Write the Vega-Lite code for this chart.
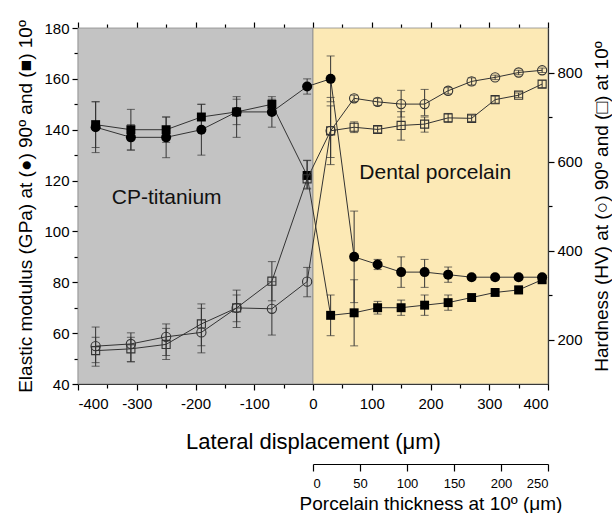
{
  "$schema": "https://vega.github.io/schema/vega-lite/v6.json",
  "width": 470,
  "height": 356,
  "padding": {"left": 16, "top": 19, "right": 0, "bottom": 0},
  "config": {
    "view": {"stroke": null},
    "font": "Liberation Sans",
    "axis": {"grid": false, "domainColor": "#000", "tickColor": "#000", "labelColor": "#000", "titleColor": "#000", "titleFontWeight": "normal", "labelFont": "Liberation Sans", "titleFont": "Liberation Sans", "labelFontSize": 15, "domainWidth": 1.2, "tickWidth": 1.2}
  },
  "datasets": {
    "regions": [
      {"x1": -400, "x2": 0, "c": "#c3c3c3"},
      {"x1": 0, "x2": 400, "c": "#fce9b5"}
    ],
    "labels": [
      {"x": -249, "y": 113, "label": "CP-titanium"},
      {"x": 208, "y": 123, "label": "Dental porcelain"}
    ],
    "pts": [
      {"s": "E90", "x": -370, "v": 141, "lo": 131, "hi": 151},
      {"s": "E90", "x": -310, "v": 137, "lo": 132, "hi": 142},
      {"s": "E90", "x": -250, "v": 137, "lo": 129, "hi": 145},
      {"s": "E90", "x": -190, "v": 140, "lo": 130, "hi": 150},
      {"s": "E90", "x": -130, "v": 147, "lo": 137, "hi": 153},
      {"s": "E90", "x": -70, "v": 147, "lo": 141, "hi": 152},
      {"s": "E90", "x": -10, "v": 157, "lo": 154, "hi": 160},
      {"s": "E90", "x": 30, "v": 160, "lo": 151, "hi": 169},
      {"s": "E90", "x": 70, "v": 90, "lo": 72, "hi": 108},
      {"s": "E90", "x": 110, "v": 87, "lo": 85, "hi": 89},
      {"s": "E90", "x": 150, "v": 84, "lo": 78, "hi": 90},
      {"s": "E90", "x": 190, "v": 84, "lo": 78, "hi": 89},
      {"s": "E90", "x": 230, "v": 83, "lo": 80, "hi": 86},
      {"s": "E90", "x": 270, "v": 82, "lo": 81, "hi": 83},
      {"s": "E90", "x": 310, "v": 82, "lo": 81, "hi": 83},
      {"s": "E90", "x": 350, "v": 82, "lo": 81, "hi": 83},
      {"s": "E90", "x": 390, "v": 82, "lo": 81, "hi": 83},
      {"s": "E10", "x": -370, "v": 142, "lo": 133, "hi": 151},
      {"s": "E10", "x": -310, "v": 140, "lo": 132, "hi": 148},
      {"s": "E10", "x": -250, "v": 140, "lo": 135, "hi": 145},
      {"s": "E10", "x": -190, "v": 145, "lo": 140, "hi": 150},
      {"s": "E10", "x": -130, "v": 147, "lo": 142, "hi": 152},
      {"s": "E10", "x": -70, "v": 150, "lo": 148, "hi": 153},
      {"s": "E10", "x": -10, "v": 122, "lo": 117, "hi": 128},
      {"s": "E10", "x": 30, "v": 67, "lo": 59, "hi": 75},
      {"s": "E10", "x": 70, "v": 68, "lo": 55, "hi": 81},
      {"s": "E10", "x": 110, "v": 70, "lo": 67.5, "hi": 72.5},
      {"s": "E10", "x": 150, "v": 70, "lo": 67, "hi": 73},
      {"s": "E10", "x": 190, "v": 71, "lo": 67, "hi": 75},
      {"s": "E10", "x": 230, "v": 72, "lo": 69, "hi": 75},
      {"s": "E10", "x": 270, "v": 74, "lo": 73, "hi": 75},
      {"s": "E10", "x": 310, "v": 76, "lo": 75, "hi": 77},
      {"s": "E10", "x": 350, "v": 77, "lo": 75.5, "hi": 78.5},
      {"s": "E10", "x": 390, "v": 81, "lo": 80, "hi": 82},
      {"s": "H90", "x": -370, "v": 185, "lo": 140, "hi": 228},
      {"s": "H90", "x": -310, "v": 190, "lo": 150, "hi": 215},
      {"s": "H90", "x": -250, "v": 206, "lo": 164, "hi": 235},
      {"s": "H90", "x": -190, "v": 216, "lo": 170, "hi": 270},
      {"s": "H90", "x": -130, "v": 271, "lo": 227, "hi": 311},
      {"s": "H90", "x": -70, "v": 269, "lo": 210, "hi": 330},
      {"s": "H90", "x": -10, "v": 330, "lo": 296, "hi": 362},
      {"s": "H90", "x": 30, "v": 669, "lo": 593, "hi": 744},
      {"s": "H90", "x": 70, "v": 742, "lo": 735, "hi": 749},
      {"s": "H90", "x": 110, "v": 734, "lo": 726, "hi": 742},
      {"s": "H90", "x": 150, "v": 729, "lo": 700, "hi": 760},
      {"s": "H90", "x": 190, "v": 729, "lo": 703, "hi": 762},
      {"s": "H90", "x": 230, "v": 759, "lo": 752, "hi": 766},
      {"s": "H90", "x": 270, "v": 780, "lo": 772, "hi": 788},
      {"s": "H90", "x": 310, "v": 789, "lo": 784, "hi": 794},
      {"s": "H90", "x": 350, "v": 800, "lo": 795, "hi": 805},
      {"s": "H90", "x": 390, "v": 805, "lo": 800, "hi": 810},
      {"s": "H10", "x": -370, "v": 175, "lo": 148, "hi": 205},
      {"s": "H10", "x": -310, "v": 179, "lo": 150, "hi": 205},
      {"s": "H10", "x": -250, "v": 189, "lo": 155, "hi": 225},
      {"s": "H10", "x": -190, "v": 235, "lo": 186, "hi": 280},
      {"s": "H10", "x": -130, "v": 271, "lo": 240, "hi": 300},
      {"s": "H10", "x": -70, "v": 331, "lo": 287, "hi": 375},
      {"s": "H10", "x": -10, "v": 561, "lo": 538, "hi": 602},
      {"s": "H10", "x": 30, "v": 669, "lo": 609, "hi": 725},
      {"s": "H10", "x": 70, "v": 677, "lo": 665, "hi": 689},
      {"s": "H10", "x": 110, "v": 672, "lo": 665, "hi": 679},
      {"s": "H10", "x": 150, "v": 681, "lo": 648, "hi": 712},
      {"s": "H10", "x": 190, "v": 684, "lo": 666, "hi": 700},
      {"s": "H10", "x": 230, "v": 698, "lo": 688, "hi": 708},
      {"s": "H10", "x": 270, "v": 697, "lo": 690, "hi": 704},
      {"s": "H10", "x": 310, "v": 739, "lo": 731, "hi": 747},
      {"s": "H10", "x": 350, "v": 749, "lo": 744, "hi": 754},
      {"s": "H10", "x": 390, "v": 774, "lo": 766, "hi": 782}
    ]
  },
  "layer": [
    {
      "layer": [
        {
          "data": {"name": "regions"},
          "mark": {"type": "rect", "stroke": "#8a8a8a", "strokeWidth": 0.8},
          "encoding": {
            "x": {"field": "x1", "type": "quantitative", "scale": {"domain": [-400, 400], "nice": false, "zero": false},
              "axis": {"orient": "top", "labels": false, "title": null, "values": [-400, -350, -300, -250, -200, -150, -100, -50, 0, 50, 100, 150, 200, 250, 300, 350, 400],
                "tickSize": {"condition": {"test": "datum.value % 100 === 0", "value": 6}, "value": 4}}},
            "x2": {"field": "x2"},
            "color": {"field": "c", "type": "nominal", "scale": null}
          }
        },
        {
          "encoding": {
            "x": {"field": "x", "type": "quantitative", "scale": {"domain": [-400, 400], "nice": false, "zero": false},
              "axis": {"orient": "bottom", "values": [-400, -350, -300, -250, -200, -150, -100, -50, 0, 50, 100, 150, 200, 250, 300, 350, 400],
                "labelExpr": "datum.value % 100 === 0 ? replace(datum.label, '−', '-') : ''",
                "tickSize": {"condition": {"test": "datum.value % 100 === 0", "value": 6}, "value": 4},
                "labelPadding": 6, "title": "Lateral displacement (μm)", "titleFontSize": 22, "titlePadding": 20}},
            "y": {"field": "v", "type": "quantitative", "scale": {"domain": [40, 180], "nice": false, "zero": false},
              "axis": {"orient": "left", "values": [40, 50, 60, 70, 80, 90, 100, 110, 120, 130, 140, 150, 160, 170, 180],
                "labelExpr": "datum.value % 20 === 0 ? datum.label : ''",
                "tickSize": {"condition": {"test": "datum.value % 20 === 0", "value": 6}, "value": 4},
                "labelPadding": 3, "title": "Elastic modulus (GPa) at (●) 90º and (■) 10º", "titleFontSize": 19, "titlePadding": 8}}
          },
          "layer": [
            {
              "data": {"name": "labels"},
              "mark": {"type": "text", "fontSize": 21, "font": "Liberation Sans", "color": "#111", "baseline": "middle", "align": "center"},
              "encoding": {"y": {"field": "y", "type": "quantitative"}, "text": {"field": "label"}}
            },
            {
              "data": {"name": "pts"},
              "transform": [{"filter": "datum.s === 'E90' || datum.s === 'E10'"}],
              "layer": [
                {"mark": {"type": "rule", "color": "#333", "strokeWidth": 1}, "encoding": {"y": {"field": "lo", "type": "quantitative"}, "y2": {"field": "hi"}}},
                {"mark": {"type": "tick", "orient": "horizontal", "size": 8, "thickness": 1, "color": "#333"}, "encoding": {"y": {"field": "lo", "type": "quantitative"}}},
                {"mark": {"type": "tick", "orient": "horizontal", "size": 8, "thickness": 1, "color": "#333"}, "encoding": {"y": {"field": "hi", "type": "quantitative"}}},
                {"mark": {"type": "line", "color": "#333", "strokeWidth": 1}, "encoding": {"detail": {"field": "s"}, "order": {"field": "x"}}},
                {"mark": {"type": "point", "filled": true, "opacity": 1, "color": "#000"},
                  "encoding": {
                    "shape": {"field": "s", "type": "nominal", "scale": {"domain": ["E90", "E10"], "range": ["circle", "square"]}, "legend": null},
                    "size": {"field": "s", "type": "nominal", "scale": {"domain": ["E90", "E10"], "range": [100, 80]}, "legend": null}
                  }}
              ]
            }
          ]
        },
        {
          "data": {"name": "pts"},
          "transform": [{"filter": "datum.s === 'H90' || datum.s === 'H10'"}],
          "encoding": {
            "x": {"field": "x", "type": "quantitative", "scale": {"domain": [-400, 400], "nice": false, "zero": false}, "axis": null},
            "y": {"field": "v", "type": "quantitative", "scale": {"domain": [100, 900], "nice": false, "zero": false},
              "axis": {"orient": "right", "values": [200, 300, 400, 500, 600, 700, 800],
                "labelExpr": "datum.value % 200 === 0 ? datum.label : ''",
                "tickSize": {"condition": {"test": "datum.value % 200 === 0", "value": 6}, "value": 4},
                "labelPadding": 3, "title": "Hardness (HV) at (○) 90º and (□) at 10º", "titleFontSize": 19, "titleAngle": 270, "titleBaseline": "top", "titlePadding": 10}}
          },
          "layer": [
            {"mark": {"type": "rule", "color": "#333", "strokeWidth": 1}, "encoding": {"y": {"field": "lo", "type": "quantitative"}, "y2": {"field": "hi"}}},
            {"mark": {"type": "tick", "orient": "horizontal", "size": 8, "thickness": 1, "color": "#333"}, "encoding": {"y": {"field": "lo", "type": "quantitative"}}},
            {"mark": {"type": "tick", "orient": "horizontal", "size": 8, "thickness": 1, "color": "#333"}, "encoding": {"y": {"field": "hi", "type": "quantitative"}}},
            {"mark": {"type": "line", "color": "#333", "strokeWidth": 1}, "encoding": {"detail": {"field": "s"}, "order": {"field": "x"}}},
            {"mark": {"type": "point", "filled": false, "opacity": 1, "color": "#333", "strokeWidth": 1.1},
              "encoding": {
                "shape": {"field": "s", "type": "nominal", "scale": {"domain": ["H90", "H10"], "range": ["circle", "square"]}, "legend": null},
                "size": {"field": "s", "type": "nominal", "scale": {"domain": ["H90", "H10"], "range": [85, 65]}, "legend": null}
              }}
          ]
        }
      ],
      "resolve": {"scale": {"y": "independent", "shape": "independent", "size": "independent"}, "axis": {"x": "independent"}}
    },
    {
      "data": {"values": [{}]},
      "mark": {"type": "point", "opacity": 0},
      "encoding": {
        "x": {"datum": 0, "type": "quantitative", "scale": {"domain": [0, 250], "range": [235, 470], "nice": false, "zero": false},
          "axis": {"orient": "bottom", "offset": 80, "values": [0, 50, 100, 150, 200, 250], "tickSize": 7, "labelFontSize": 13, "labelPadding": 6,
            "title": "Porcelain thickness at 10º (μm)", "titleFontSize": 19, "titlePadding": 4}}
      }
    }
  ],
  "resolve": {"scale": {"x": "independent"}}
}
